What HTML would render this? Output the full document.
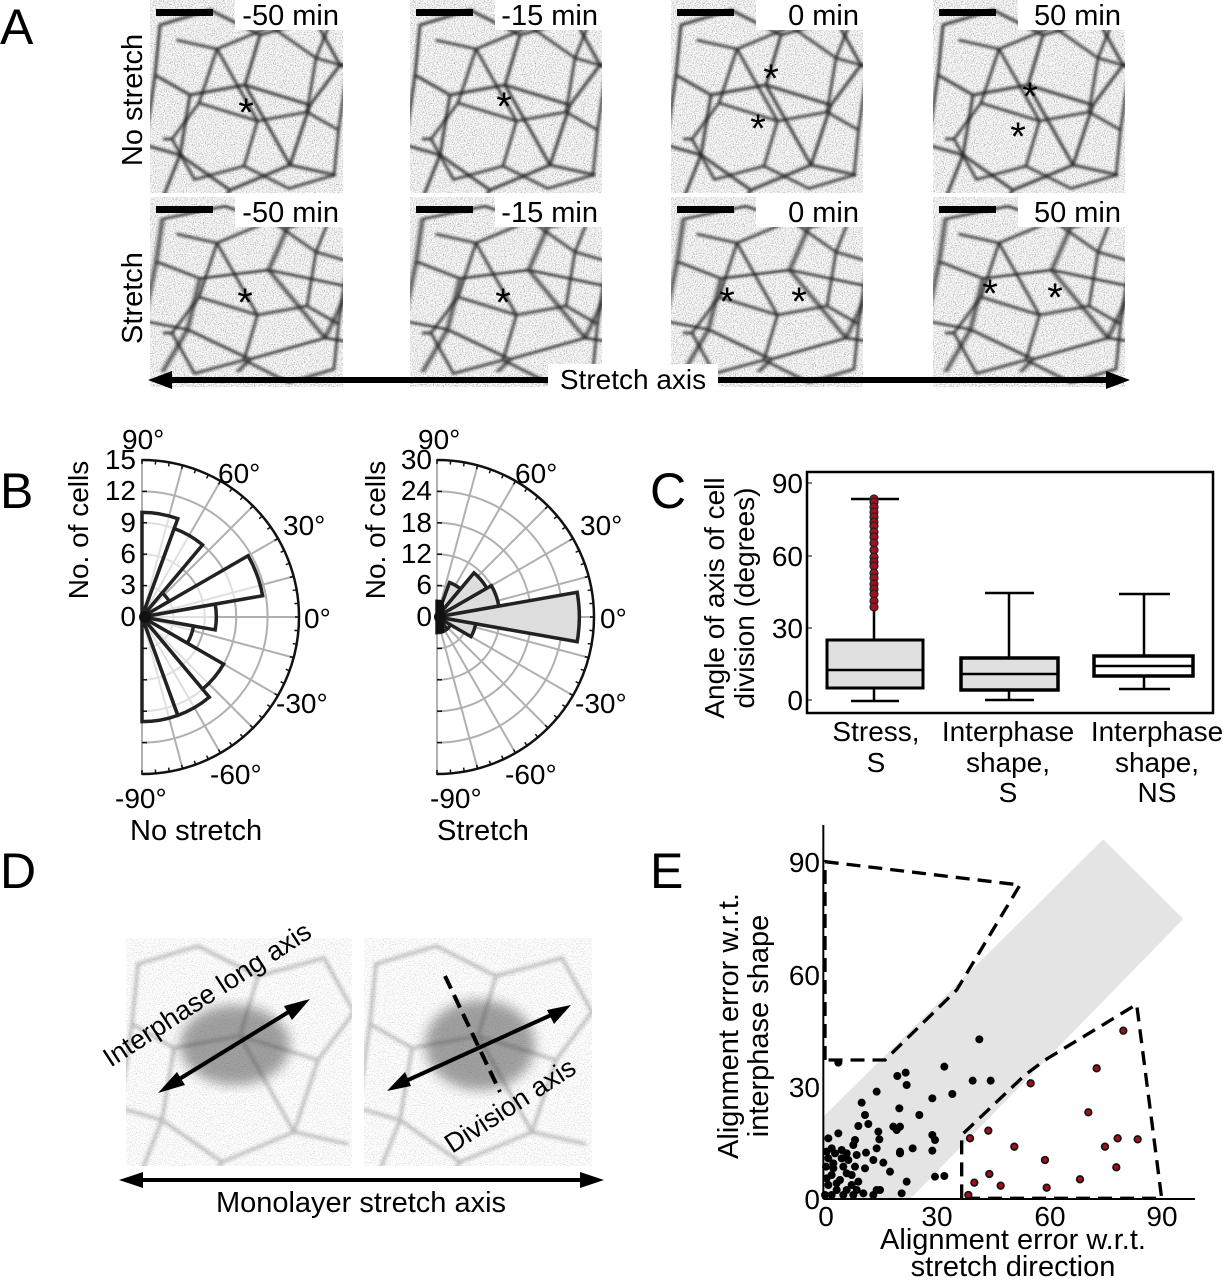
<!DOCTYPE html>
<html><head><meta charset="utf-8">
<style>
html,body{margin:0;padding:0;background:#fff;}
svg{display:block;font-family:"Liberation Sans",Arial,sans-serif;}
</style></head>
<body>
<svg id="s" width="1225" height="1280" viewBox="0 0 1225 1280" xmlns="http://www.w3.org/2000/svg">
<defs>
<filter id="nz" x="0" y="0" width="1" height="1">
<feTurbulence type="fractalNoise" baseFrequency="0.9" numOctaves="2" seed="3"/>
<feColorMatrix type="matrix" values="1.6 0 0 0 0.05  1.6 0 0 0 0.05  1.6 0 0 0 0.05  0 0 0 0 1"/>
</filter>
<filter id="nz2" x="0" y="0" width="1" height="1">
<feTurbulence type="fractalNoise" baseFrequency="0.9" numOctaves="2" seed="7"/>
<feColorMatrix type="matrix" values="1.2 0 0 0 0.38  1.2 0 0 0 0.38  1.2 0 0 0 0.38  0 0 0 0 1"/>
</filter>
<filter id="bl"><feGaussianBlur stdDeviation="1.4"/></filter>
<filter id="bl2"><feGaussianBlur stdDeviation="6"/></filter>
<g id="cellsA" fill="none" stroke="#222" stroke-width="3.2" stroke-opacity="0.8" filter="url(#bl)">
<path d="M10 20 L60 5 L110 30 L95 80 L40 90 L5 70 Z"/>
<path d="M110 30 L165 15 L190 60 L160 100 L95 80"/>
<path d="M40 90 L30 150 L80 185 L140 160 L160 100"/>
<path d="M5 70 L-5 140 L30 150"/>
<path d="M80 185 L70 200 M140 160 L185 170 M190 60 L200 60 M30 150 L10 200"/>
<path d="M95 80 L140 160"/>
</g>
</defs>

<!-- Panel A -->
<text x="0" y="44" font-size="50">A</text>
<g id="panelA"></g>
<text transform="translate(142,100) rotate(-90)" font-size="29" text-anchor="middle">No stretch</text>
<text transform="translate(142,298) rotate(-90)" font-size="29" text-anchor="middle">Stretch</text>
<line x1="165" y1="380" x2="1110" y2="380" stroke="#000" stroke-width="6"/>
<polygon points="148,380 172,371 172,389" fill="#000"/>
<polygon points="1130,380 1106,371 1106,389" fill="#000"/>
<rect x="548" y="364" width="170" height="30" fill="#fff"/>
<text x="633" y="389" font-size="28" text-anchor="middle">Stretch axis</text>

<!-- Panel B -->
<text x="0" y="508" font-size="50">B</text>
<g id="polL"></g>
<g id="polR"></g>
<text transform="translate(88,530) rotate(-90)" font-size="28" text-anchor="middle">No. of cells</text>
<text transform="translate(385,530) rotate(-90)" font-size="28" text-anchor="middle">No. of cells</text>
<g font-size="28" text-anchor="end">
<text x="136" y="469">15</text><text x="136" y="500">12</text><text x="136" y="532">9</text>
<text x="136" y="563">6</text><text x="136" y="594">3</text><text x="136" y="626">0</text>
<text x="432" y="469">30</text><text x="432" y="500">24</text><text x="432" y="532">18</text>
<text x="432" y="563">12</text><text x="432" y="594">6</text><text x="432" y="626">0</text>
</g>
<g font-size="28">
<text x="122" y="449">90°</text><text x="218" y="483">60°</text><text x="283" y="535">30°</text>
<text x="304" y="628">0°</text><text x="276" y="713">-30°</text><text x="210" y="784">-60°</text><text x="115" y="808">-90°</text>
<text x="418" y="449">90°</text><text x="515" y="483">60°</text><text x="580" y="535">30°</text>
<text x="600" y="628">0°</text><text x="575" y="713">-30°</text><text x="505" y="784">-60°</text><text x="430" y="808">-90°</text>
</g>
<text x="130" y="840" font-size="29">No stretch</text>
<text x="437" y="840" font-size="29">Stretch</text>

<!-- Panel C -->
<text x="650" y="508" font-size="50">C</text>
<rect x="807" y="472" width="406" height="241" fill="none" stroke="#000" stroke-width="2.5"/>
<g stroke="#000" stroke-width="1"><line x1="807" y1="483" x2="812" y2="483"/><line x1="807" y1="556" x2="812" y2="556"/><line x1="807" y1="628" x2="812" y2="628"/><line x1="807" y1="700" x2="812" y2="700"/></g>
<g font-size="28" text-anchor="end"><text x="803" y="493">90</text><text x="803" y="566">60</text><text x="803" y="638">30</text><text x="803" y="710">0</text></g>
<text transform="translate(724,598) rotate(-90)" font-size="28" text-anchor="middle">Angle of axis of cell</text>
<text transform="translate(754,598) rotate(-90)" font-size="28" text-anchor="middle">division (degrees)</text>
<g stroke="#000" stroke-width="2.5">
<line x1="874" y1="701" x2="874" y2="640"/><line x1="874" y1="640" x2="874" y2="499"/>
<line x1="851" y1="701" x2="899" y2="701"/><line x1="851" y1="499" x2="899" y2="499"/>
<rect x="827" y="640" width="96" height="48" fill="#e0e0e0" stroke-width="3"/>
<line x1="827" y1="670" x2="923" y2="670"/>
<line x1="1009" y1="700" x2="1009" y2="593"/>
<line x1="985" y1="700" x2="1034" y2="700"/><line x1="985" y1="593" x2="1034" y2="593"/>
<rect x="961" y="658" width="97" height="32" fill="#e0e0e0" stroke-width="3.5"/>
<line x1="961" y1="674" x2="1058" y2="674"/>
<line x1="1144" y1="689" x2="1144" y2="594"/>
<line x1="1119" y1="689" x2="1170" y2="689"/><line x1="1119" y1="594" x2="1170" y2="594"/>
<rect x="1094" y="656" width="99" height="20" fill="#fff" stroke-width="3.5"/>
<line x1="1094" y1="666" x2="1193" y2="666"/>
</g>
<g fill="#a01020" stroke="#222" stroke-width="1.2" id="outl"></g>
<g font-size="28" text-anchor="middle">
<text x="876" y="741">Stress,</text><text x="876" y="772">S</text>
<text x="1008" y="741">Interphase</text><text x="1008" y="772">shape,</text><text x="1008" y="802">S</text>
<text x="1157" y="741">Interphase</text><text x="1157" y="772">shape,</text><text x="1157" y="802">NS</text>
</g>

<!-- Panel D -->
<text x="0" y="888" font-size="50">D</text>
<g>
<rect x="126" y="938" width="226" height="228" filter="url(#nz2)"/>
<rect x="364" y="938" width="228" height="228" filter="url(#nz2)"/>
<svg x="126" y="938" width="226" height="228" overflow="hidden"><g opacity="0.3"><use href="#cellsA" transform="translate(0,2) scale(1.2)"/></g></svg>
<svg x="364" y="938" width="228" height="228" overflow="hidden"><g opacity="0.3"><use href="#cellsA" transform="translate(0,2) scale(1.2)"/></g></svg>
<ellipse cx="235" cy="1045" rx="55" ry="40" fill="#444" opacity="0.5" filter="url(#bl2)"/>
<ellipse cx="480" cy="1045" rx="55" ry="45" fill="#444" opacity="0.5" filter="url(#bl2)"/>
</g>
<g stroke="#000" stroke-width="4">
<line x1="168" y1="1086" x2="300" y2="1005"/>
<line x1="397" y1="1085" x2="560" y2="1011"/>
<line x1="445" y1="976" x2="500" y2="1092" stroke-dasharray="14,7"/>
</g>
<polygon points="158,1093 177,1072 185,1085" fill="#000"/>
<polygon points="310,999 292,1020 284,1006" fill="#000"/>
<polygon points="387,1091 405,1072 411,1086" fill="#000"/>
<polygon points="571,1005 554,1024 547,1010" fill="#000"/>
<text transform="translate(212,1002) rotate(-33)" font-size="27" text-anchor="middle">Interphase long axis</text>
<text transform="translate(515,1113) rotate(-33)" font-size="27" text-anchor="middle">Division axis</text>
<line x1="135" y1="1180" x2="588" y2="1180" stroke="#000" stroke-width="4"/>
<polygon points="119,1180 143,1172 143,1188" fill="#000"/>
<polygon points="604,1180 580,1172 580,1188" fill="#000"/>
<text x="361" y="1212" font-size="29" text-anchor="middle">Monolayer stretch axis</text>

<!-- Panel E -->
<text x="650" y="888" font-size="50">E</text>
<g transform="translate(700,820) scale(0.33333)">
<polygon points="370,890 1210,58 1450,297 630,1137 370,1137" fill="#e4e4e4"/>
<g fill="none" stroke="#000" stroke-width="10" stroke-dasharray="42,24">
<polyline points="375,720 375,125 960,195 770,510 555,720 375,720"/>
<polyline points="785,1135 785,945 975,765 1035,720 1310,553 1385,1135 785,1135"/>
</g>
<g id="blk" fill="#000"></g>
<g id="red" fill="#a01020" stroke="#111" stroke-width="5"></g>
<line x1="370" y1="15" x2="370" y2="1137" stroke="#000" stroke-width="6"/>
<line x1="370" y1="1137" x2="1485" y2="1137" stroke="#000" stroke-width="6"/>
</g>
<g font-size="28" text-anchor="end"><text x="820" y="872">90</text><text x="820" y="985">60</text><text x="820" y="1097">30</text><text x="820" y="1209">0</text></g>
<g font-size="28" text-anchor="middle"><text x="826" y="1226">0</text><text x="937" y="1226">30</text><text x="1050" y="1226">60</text><text x="1162" y="1226">90</text></g>
<text transform="translate(738,1026) rotate(-90)" font-size="29" text-anchor="middle">Alignment error w.r.t.</text>
<text transform="translate(768,1026) rotate(-90)" font-size="29" text-anchor="middle">interphase shape</text>
<text x="1013" y="1249" font-size="29" text-anchor="middle">Alignment error w.r.t.</text>
<text x="1013" y="1276" font-size="29" text-anchor="middle">stretch direction</text>
</svg>
<script>
var NS="http://www.w3.org/2000/svg";
function el(p,t,a){var e=document.createElementNS(NS,t);for(var k in a)e.setAttribute(k,a[k]);p.appendChild(e);return e;}
// Panel A
var A=document.getElementById("panelA");
var cols=[150,410,671,933],w=[193,192,192,192];
var labs=["-50 min","-15 min","0 min","50 min"];
var rows=[0,197],hh=[193,190];
for(var r=0;r<2;r++)for(var c=0;c<4;c++){
 var x=cols[c],y=rows[r];
 el(A,"rect",{x:x,y:y,width:w[c],height:hh[r],filter:"url(#nz)"});
 var sv=el(A,"svg",{x:x,y:y,width:w[c],height:hh[r],overflow:"hidden"});
 var sx=(r==1)?1.25:1.0, sy=(r==1)?0.85:1.0;
 el(sv,"use",{href:"#cellsA",transform:"translate(0,5) scale("+sx+","+sy+")"});
 el(sv,"use",{href:"#cellsA",transform:"translate("+w[c]+","+hh[r]+") rotate(180) scale(0.9)"});
 el(A,"rect",{x:x+85,y:y,width:w[c]-85,height:30,fill:"#fff"});
 var t=el(A,"text",{x:x+w[c]-4,y:y+25,"font-size":"29","text-anchor":"end"});t.textContent=labs[c];
 el(A,"rect",{x:x+6,y:y+9,width:57,height:7,fill:"#000"});
}
var stars=[[[246,108]],[[504,102]],[[771,74],[758,124]],[[1030,92],[1018,132]],
 [[245,298]],[[503,298]],[[727,297],[799,297]],[[990,289],[1055,293]]];
stars.forEach(function(s){s.forEach(function(p){var t=el(A,"text",{x:p[0],y:p[1]+18,"font-size":"40","text-anchor":"middle"});t.textContent="*";});});
// polar
function polar(id,cx,cy,R,max,vals,fill){
 var g=document.getElementById(id);
 for(var i=1;i<5;i++){var rr=R*i/5;el(g,"path",{d:"M"+cx+" "+(cy-rr)+" A"+rr+" "+rr+" 0 0 1 "+cx+" "+(cy+rr),fill:"none",stroke:"#b0b0b0","stroke-width":2});}
 for(var a=-90;a<=90;a+=15){var rad=a*Math.PI/180;el(g,"line",{x1:cx,y1:cy,x2:cx+R*Math.cos(rad),y2:cy-R*Math.sin(rad),stroke:"#b0b0b0","stroke-width":2});}
 var k=0;
 for(var c=80;c>=-80;c-=20){var v=vals[k++];var rr=R*v/max;var a1=(c+10)*Math.PI/180,a2=(c-10)*Math.PI/180;
  el(g,"path",{d:"M"+cx+" "+cy+" L"+(cx+rr*Math.cos(a1))+" "+(cy-rr*Math.sin(a1))+" A"+rr+" "+rr+" 0 0 1 "+(cx+rr*Math.cos(a2))+" "+(cy-rr*Math.sin(a2))+" Z",fill:fill,"fill-opacity":fill=="#fff"?0.6:1,stroke:"#222","stroke-width":3.5,"stroke-linejoin":"miter"});}
 el(g,"path",{d:"M"+cx+" "+(cy-R)+" A"+R+" "+R+" 0 0 1 "+cx+" "+(cy+R),fill:"none",stroke:"#111","stroke-width":2.5});
 for(var a=-90;a<=90;a+=5){var rad=a*Math.PI/180;
  el(g,"line",{x1:cx+(R-4)*Math.cos(rad),y1:cy-(R-4)*Math.sin(rad),x2:cx+(R+1)*Math.cos(rad),y2:cy-(R+1)*Math.sin(rad),stroke:"#111","stroke-width":1.5});}
 for(var i=0;i<=10;i++){var yy=cy-R+i*R/5;el(g,"line",{x1:cx,y1:yy,x2:cx+5,y2:yy,stroke:"#111","stroke-width":1.5});}
 el(g,"circle",{cx:cx+3,cy:cy,r:6,fill:"#111"});
}
polar("polL",142,617,157,15,[10,9,3,11.7,7.1,5,9,10,10],"#fff");
polar("polR",437,617,157,30,[3,7,11,12,27.2,7.5,3,3,3],"#ddd");
el(document.getElementById("polR"),"rect",{x:436,y:600,width:8,height:33,fill:"#111"});
// outliers C
var og=document.getElementById("outl");
[499,502,507,512,517,522,526,532,537,543,550,557,562,566,573,578,584,589,594,601,607].forEach(function(y){el(og,"circle",{cx:874,cy:y,r:4});});
// scatter E
var blk=[[838,658],[415,728],[733,740],[818,782],[872,782],[617,758],[592,768],[620,795],[530,815],[697,835],[757,822],[485,848],[598,865],[658,885],[495,885],[505,912],[475,918],[535,935],[600,920],[590,930],[697,945],[705,960],[385,955],[415,940],[465,960],[538,958],[460,975],[395,985],[405,1000],[425,990],[440,1000],[498,998],[530,985],[638,985],[600,995],[697,992],[470,1005],[385,1015],[520,1020],[550,1028],[378,1040],[400,1045],[430,1040],[465,1040],[495,1045],[570,1055],[620,1085],[705,1070],[733,1068],[395,1065],[420,1080],[380,1075],[455,1065],[475,1085],[385,1095],[410,1110],[440,1110],[470,1110],[430,1125],[530,1110],[540,1110],[605,1120],[375,1125],[395,1125],[520,1125],[460,1125],[400,1030],[440,1060],[410,1090],[455,1095],[490,1120],[380,995],[445,1020],[425,1015],[580,920],[600,1000]];
var bg=document.getElementById("blk");blk.forEach(function(p){el(bg,"circle",{cx:p[0],cy:p[1],r:12});});
var red=[[810,955],[865,932],[992,790],[943,980],[823,1088],[868,1062],[902,1097],[1035,1020],[1040,1103],[1140,1078],[1165,877],[1190,745],[1215,980],[1253,955],[1270,632],[1313,958],[1249,1042],[805,1125]];
var rg=document.getElementById("red");red.forEach(function(p){el(rg,"circle",{cx:p[0],cy:p[1],r:10});});
</script>
</body></html>
